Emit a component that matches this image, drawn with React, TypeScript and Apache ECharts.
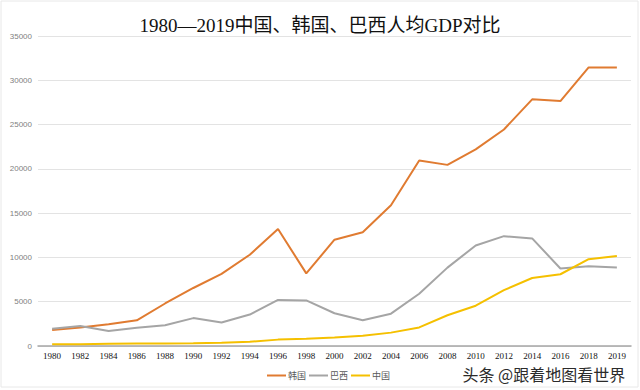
import React, { useEffect, useRef } from "react";
import * as echarts from "echarts";

const years = ["1980","1982","1984","1986","1988","1990","1992","1994","1996","1998","2000","2002","2004","2006","2008","2010","2012","2014","2016","2018","2019"];
const korea = [1800, 2100, 2450, 2900, 4800, 6550, 8150, 10300, 13200, 8200, 12000, 12850, 15900, 20950, 20450, 22200, 24450, 27850, 27650, 31450, 31450];
const brazil = [1950, 2250, 1700, 2050, 2350, 3150, 2650, 3550, 5200, 5150, 3700, 2900, 3650, 5900, 8850, 11350, 12400, 12150, 8750, 9000, 8850];
const china = [200, 200, 250, 280, 290, 320, 370, 470, 720, 830, 960, 1150, 1510, 2100, 3470, 4550, 6300, 7680, 8100, 9800, 10150];
const yTicks = { min: 0, max: 35000, interval: 5000 };
const titleText = "1980—2019中国、韩国、巴西人均GDP对比";
const watermark = "头条 @跟着地图看世界";

export default function App() {
  const ref = useRef<HTMLDivElement>(null);
  useEffect(() => {
    const chart = echarts.init(ref.current!, undefined, { renderer: "svg" });
    const cjk = "'Noto Sans CJK SC', sans-serif";
    chart.setOption({
      animation: false,
      backgroundColor: "#ffffff",
      title: {
        text: titleText,
        left: "center",
        top: 11,
        textStyle: { fontSize: 19, fontWeight: "normal", color: "#111", fontFamily: "'Liberation Serif', 'Noto Sans CJK SC', serif" },
      },
      legend: {
        left: 262,
        top: 366,
        icon: "rect",
        itemWidth: 19,
        itemHeight: 2,
        itemGap: 3,
        textStyle: { fontSize: 9, color: "#595959", fontFamily: cjk, padding: [0, 0, 0, -3] },
        data: ["韩国", "巴西", "中国"],
      },
      grid: { left: 38, right: 9, top: 36, bottom: 44 },
      xAxis: {
        type: "category",
        data: years,
        boundaryGap: true,
        axisTick: { show: false },
        axisLine: { lineStyle: { color: "#a6a6a6", width: 1.5 } },
        axisLabel: { interval: 0, fontSize: 9, color: "#111", margin: 5, fontFamily: "'Liberation Serif', serif" },
      },
      yAxis: {
        type: "value",
        min: yTicks.min,
        max: yTicks.max,
        interval: yTicks.interval,
        axisLine: { show: false },
        axisTick: { show: false },
        axisLabel: { fontSize: 8, color: "#7f7f7f", margin: 6, fontFamily: "'Liberation Sans', sans-serif", formatter: (v: number) => String(v) },
        splitLine: { lineStyle: { color: "#e3e3e3", width: 1 } },
      },
      series: [
        { name: "韩国", type: "line", data: korea, symbol: "none", lineStyle: { color: "#E07B31", width: 2 }, itemStyle: { color: "#E07B31" } },
        { name: "巴西", type: "line", data: brazil, symbol: "none", lineStyle: { color: "#A5A5A5", width: 2 }, itemStyle: { color: "#A5A5A5" } },
        { name: "中国", type: "line", data: china, symbol: "none", lineStyle: { color: "#F5C000", width: 2 }, itemStyle: { color: "#F5C000" } },
      ],
      graphic: [
        { type: "rect", shape: { x: 1, y: 1, width: 637, height: 386 }, style: { fill: "none", stroke: "#e8e8e8", lineWidth: 1 }, silent: true },
        { type: "line", shape: { x1: 633, y1: 35, x2: 633, y2: 348 }, style: { stroke: "#cfcfcf", lineWidth: 1, shadowBlur: 3, shadowColor: "rgba(0,0,0,0.25)", shadowOffsetX: 1 }, silent: true },
        {
          type: "text",
          left: 462,
          top: 365,
          style: { text: watermark, fontSize: 16, fill: "#2b2b2b", fontFamily: cjk, stroke: "#ffffff", lineWidth: 1 },
          silent: true,
        },
      ],
    });
    return () => chart.dispose();
  }, []);
  return <div ref={ref} style={{ position: "fixed", left: 0, top: 0, width: 640, height: 390 }} />;
}
